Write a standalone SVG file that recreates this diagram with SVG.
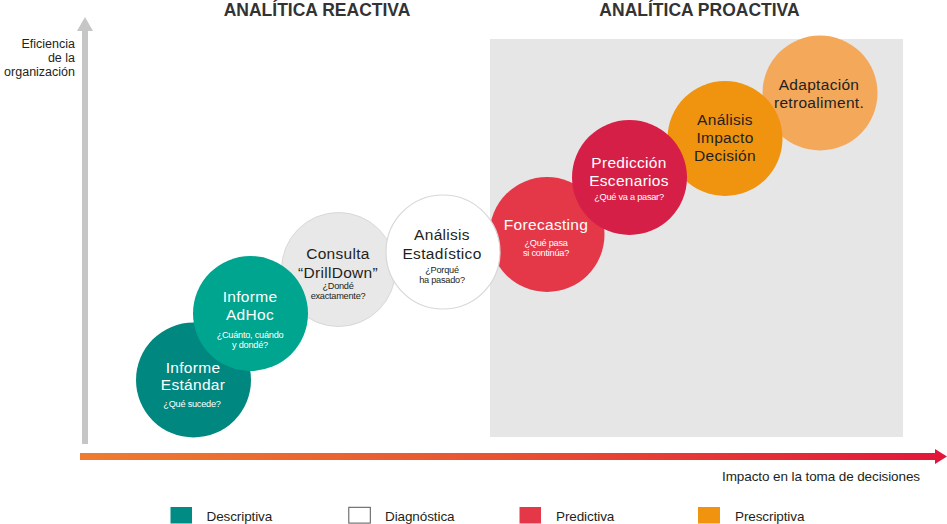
<svg xmlns="http://www.w3.org/2000/svg" width="947" height="524" viewBox="0 0 947 524">
<defs>
<linearGradient id="hgrad" gradientUnits="userSpaceOnUse" x1="80" y1="0" x2="947" y2="0">
<stop offset="0" stop-color="#ee7c2f"/>
<stop offset="0.45" stop-color="#e85631"/>
<stop offset="1" stop-color="#e3163a"/>
</linearGradient>
<style>
text{font-family:"Liberation Sans",Arial,sans-serif;}
.hdr{font-size:17.5px;font-weight:bold;fill:#333333;text-anchor:middle;}
.t{font-size:15.5px;text-anchor:middle;letter-spacing:0.3px;}
.q{font-size:9.2px;text-anchor:middle;letter-spacing:-0.25px;}
.w{fill:#ffffff;}
.d{fill:#231f20;}
.lbl{font-size:13.5px;fill:#231f20;letter-spacing:-0.1px;}
.ax{font-size:12.5px;fill:#231f20;text-anchor:end;}
</style>
</defs>
<rect width="947" height="524" fill="#ffffff"/>
<rect id="proactive-area" x="490" y="39" width="413" height="398" fill="#e6e6e6"/>
<g id="headers">
<text class="hdr" x="317" y="16">ANALÍTICA REACTIVA</text>
<text class="hdr" x="699.5" y="16">ANALÍTICA PROACTIVA</text>
</g>
<g id="connectors">
<rect x="82" y="29" width="6" height="415" fill="#c6c6c6"/>
<polygon points="77,31 85,17 93,31" fill="#c6c6c6"/>
<rect x="80" y="453" width="857" height="7" fill="url(#hgrad)"/>
<polygon points="935,449 947,456.5 935,464" fill="#e3163a"/>
</g>
<g id="axis-labels">
<text class="ax" x="75" y="47.5">Eficiencia</text>
<text class="ax" x="75" y="61.5">de la</text>
<text class="ax" x="75" y="75.5">organización</text>
<text class="lbl" x="920" y="480.5" text-anchor="end">Impacto en la toma de decisiones</text>
</g>
<g id="informe-estandar">
<circle cx="193.5" cy="380" r="57.5" fill="#00877f"/>
<text class="t w" x="193" y="373">Informe</text>
<text class="t w" x="193" y="390">Estándar</text>
<text class="q w" x="192" y="407">¿Qué sucede?</text>
</g>
<g id="consulta-drilldown">
<circle cx="338.5" cy="269.5" r="57" fill="#e8e8e8" stroke="#d8d8d8" stroke-width="1"/>
<text class="t d" x="338" y="259">Consulta</text>
<text class="t d" x="338" y="278">“DrillDown”</text>
<text class="q d" x="338" y="289">¿Dondé</text>
<text class="q d" x="338" y="299">exactamente?</text>
</g>
<g id="informe-adhoc">
<circle cx="250.5" cy="313.5" r="57.5" fill="#00a590"/>
<text class="t w" x="250" y="302">Informe</text>
<text class="t w" x="250" y="320">AdHoc</text>
<text class="q w" x="250" y="337.5">¿Cuánto, cuándo</text>
<text class="q w" x="250" y="347.5">y dondé?</text>
</g>
<g id="forecasting">
<circle cx="547" cy="234.5" r="57.5" fill="#e43849"/>
<text class="t w" x="546" y="229.5">Forecasting</text>
<text class="q w" x="546" y="246">¿Qué pasa</text>
<text class="q w" x="546" y="256">si continúa?</text>
</g>
<g id="analisis-estadistico">
<circle cx="443" cy="252" r="57" fill="#ffffff" stroke="#d8d8d8" stroke-width="1.2"/>
<text class="t d" x="442" y="240">Análisis</text>
<text class="t d" x="442" y="259">Estadístico</text>
<text class="q d" x="442" y="273">¿Porqué</text>
<text class="q d" x="442" y="283">ha pasado?</text>
</g>
<g id="adaptacion">
<circle cx="820" cy="93" r="57.5" fill="#f4a85a"/>
<text class="t d" x="819" y="90">Adaptación</text>
<text class="t d" x="819" y="108">retroaliment.</text>
</g>
<g id="analisis-impacto">
<circle cx="725" cy="138.5" r="57.5" fill="#f0930f"/>
<text class="t d" x="725" y="125">Análisis</text>
<text class="t d" x="725" y="143">Impacto</text>
<text class="t d" x="725" y="161">Decisión</text>
</g>
<g id="prediccion-escenarios">
<circle cx="629.5" cy="177.5" r="57.5" fill="#d61f46"/>
<text class="t w" x="629" y="168">Predicción</text>
<text class="t w" x="629" y="186">Escenarios</text>
<text class="q w" x="629" y="200">¿Qué va a pasar?</text>
</g>
<g id="legend">
<rect x="170.5" y="507" width="21.5" height="16.5" fill="#008b84"/>
<text class="lbl" x="206.5" y="520.5">Descriptiva</text>
<rect x="348.8" y="507.3" width="21.5" height="15.8" fill="#ffffff" stroke="#555555" stroke-width="1"/>
<text class="lbl" x="385" y="520.5">Diagnóstica</text>
<rect x="519.5" y="507" width="21.5" height="16.5" fill="#e43849"/>
<text class="lbl" x="556" y="520.5">Predictiva</text>
<rect x="698" y="507" width="22" height="16.5" fill="#f0930f"/>
<text class="lbl" x="735" y="520.5">Prescriptiva</text>
</g>
</svg>
